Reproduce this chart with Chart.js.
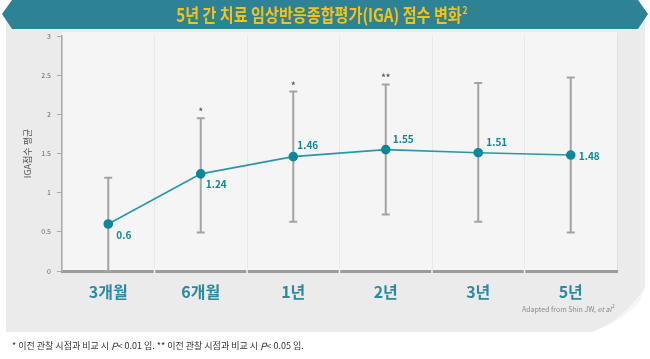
<!DOCTYPE html>
<html>
<head>
<meta charset="utf-8">
<script src="https://cdn.jsdelivr.net/npm/chart.js@4"></script>
<style>
  body { margin: 0; background: #fff; }
  #wrap { width: 650px; height: 359px; }
</style>
</head>
<body>
<div id="wrap"><canvas id="igaChart" width="650" height="359"></canvas></div>
<script>
// values
const categories = ['3개월', '6개월', '1년', '2년', '3년', '5년'];
const means = [0.6, 1.24, 1.46, 1.55, 1.51, 1.48];
const errLow = [0.0, 0.49, 0.63, 0.72, 0.63, 0.49];
const errHigh = [1.19, 1.95, 2.29, 2.38, 2.40, 2.47];
const sigMarks = ['', '*', '*', '**', '', ''];
const yTicks = [0, 0.5, 1, 1.5, 2, 2.5, 3];

const teal = '#2a97a8';
const tealDark = '#0d8799';
const fontKR = '"Noto Sans CJK KR", "Noto Sans", sans-serif';

// where each value label sits relative to its point: [dx, dy]
const labelOffset = [[8, 11], [5, 10], [4, -11], [7, -10], [8, -11], [8, 1]];

Chart.defaults.font.family = fontKR;

// draws a run of [font, text] pieces left to right
function drawRun(c, parts, x, y) {
    parts.forEach(p => {
        c.font = p[0] + ' ' + fontKR;
        c.fillText(p[1], x, y);
        x += c.measureText(p[1]).width;
    });
    return x;
}

const paperPlugin = {
    id: 'paper',
    beforeDraw(chart) {
        const c = chart.ctx;
        const a = chart.chartArea;
        c.save();
        c.fillStyle = '#ffffff';
        c.fillRect(0, 0, chart.width, chart.height);
        // paper sheet
        c.fillStyle = '#ebebeb';
        c.beginPath();
        c.moveTo(6, 18);
        c.lineTo(645, 18);
        c.lineTo(645, 288);
        c.quadraticCurveTo(625, 318, 592, 332);
        c.lineTo(6, 332);
        c.closePath();
        c.fill();
        // lighter plot panel
        c.fillStyle = '#f5f5f5';
        c.fillRect(a.left, a.top - 4, a.right - a.left, a.bottom - a.top + 4);
        // curled corner
        const g = c.createLinearGradient(600, 300, 640, 330);
        g.addColorStop(0, '#d6d6d6');
        g.addColorStop(0.6, '#f7f7f7');
        g.addColorStop(1, '#bdbdbd');
        c.fillStyle = g;
        c.beginPath();
        c.moveTo(645, 288);
        c.quadraticCurveTo(625, 318, 592, 332);
        c.quadraticCurveTo(628, 318, 640, 300);
        c.closePath();
        c.fill();
        c.restore();
    },
    beforeDatasetsDraw(chart) {
        const c = chart.ctx;
        const x = chart.scales.x, y = chart.scales.y;
        c.save();
        c.strokeStyle = '#a3a3a3';
        c.lineWidth = 2;
        categories.forEach((cat, i) => {
            const px = x.getPixelForValue(i);
            const top = y.getPixelForValue(errHigh[i]);
            const bot = y.getPixelForValue(errLow[i]);
            c.beginPath();
            c.moveTo(px, top); c.lineTo(px, bot);
            c.moveTo(px - 4, top); c.lineTo(px + 4, top);
            c.moveTo(px - 4, bot); c.lineTo(px + 4, bot);
            c.stroke();
        });
        c.restore();
    },
    afterDraw(chart) {
        const c = chart.ctx;
        const a = chart.chartArea;
        const x = chart.scales.x, y = chart.scales.y;
        c.save();

        // small gaps in the bottom axis bar
        c.strokeStyle = '#f5f5f5';
        c.lineWidth = 1.5;
        for (let i = 1; i < categories.length; i++) {
            const bx = (x.getPixelForValue(i - 1) + x.getPixelForValue(i)) / 2;
            c.beginPath();
            c.moveTo(bx, a.bottom - 3); c.lineTo(bx, a.bottom + 3);
            c.stroke();
        }

        // significance marks
        c.fillStyle = '#555';
        c.font = 'bold 9px ' + fontKR;
        c.textAlign = 'center';
        c.textBaseline = 'bottom';
        sigMarks.forEach((m, i) => {
            if (!m) return;
            c.fillText(m, x.getPixelForValue(i), y.getPixelForValue(errHigh[i]) - 2);
        });

        // value labels
        c.fillStyle = tealDark;
        c.font = 'bold 10px ' + fontKR;
        c.textAlign = 'left';
        c.textBaseline = 'middle';
        means.forEach((v, i) => {
            const o = labelOffset[i];
            c.fillText(String(v), x.getPixelForValue(i) + o[0], y.getPixelForValue(v) + o[1]);
        });

        // title banner
        c.fillStyle = '#2d8296';
        c.beginPath();
        c.moveTo(12, 0);
        c.lineTo(638, 0);
        c.lineTo(648, 14);
        c.lineTo(638, 29);
        c.lineTo(12, 29);
        c.lineTo(2, 14);
        c.closePath();
        c.fill();
        const titleText = '5년 간 치료 임상반응종합평가(IGA) 점수 변화';
        c.fillStyle = '#f3c316';
        c.textAlign = 'center';
        c.textBaseline = 'middle';
        c.translate(319, 15);
        c.scale(0.84, 1);
        c.font = 'bold 18px ' + fontKR;
        c.fillText(titleText, 0, 0);
        const tw = c.measureText(titleText).width;
        c.font = 'bold 10px ' + fontKR;
        c.textAlign = 'left';
        c.fillText('2', tw / 2 + 1, -5);
        c.setTransform(1, 0, 0, 1, 0, 0);

        // source
        c.fillStyle = '#8a8a8a';
        c.textAlign = 'left';
        const ex = drawRun(c, [['7px', 'Adapted from Shin JW, '], ['italic 7px', 'et al']], 522, 309);
        c.font = '5px ' + fontKR;
        c.fillText('2', ex + 0.5, 306);

        // footnote
        c.fillStyle = '#333';
        drawRun(c, [
            ['9px', '* 이전 관찰 시점과 비교 시 '], ['italic 10px', 'P'], ['9px', '< 0.01 임. ** 이전 관찰 시점과 비교 시 '],
            ['italic 10px', 'P'], ['9px', '< 0.05 임.']
        ], 12, 346);
        c.restore();
    }
};

new Chart(document.getElementById('igaChart'), {
    type: 'line',
    data: {
        labels: categories,
        datasets: [{
            data: means,
            borderColor: teal,
            borderWidth: 1.6,
            pointBackgroundColor: tealDark,
            pointBorderColor: tealDark,
            pointRadius: 4,
            tension: 0
        }]
    },
    options: {
        responsive: false,
        animation: false,
        layout: { padding: { top: 36, right: 33, bottom: 58, left: 0 } },
        plugins: { legend: { display: false }, tooltip: { enabled: false } },
        scales: {
            x: {
                offset: true,
                afterFit: s => { s.height = 30; },
                grid: { offset: true, color: 'rgba(0,0,0,0.05)', drawTicks: false },
                border: { color: '#9b9b9b', width: 3 },
                ticks: { color: '#2b8aa0', padding: 11, font: { size: 16, weight: 'bold' } }
            },
            y: {
                min: 0,
                max: 3,
                afterFit: s => { s.width = 62; },
                afterBuildTicks: s => { s.ticks = yTicks.map(v => ({ value: v })); },
                grid: { drawOnChartArea: false, tickLength: 5, color: '#aaa' },
                border: { color: '#aaa', width: 1.5 },
                ticks: { color: '#666', padding: 6, font: { size: 7 }, callback: v => String(v) },
                title: { display: true, text: 'IGA점수 평균', color: '#555', font: { size: 9 }, padding: { top: 22, bottom: 0 } }
            }
        }
    },
    plugins: [paperPlugin]
});
</script>
</body>
</html>
